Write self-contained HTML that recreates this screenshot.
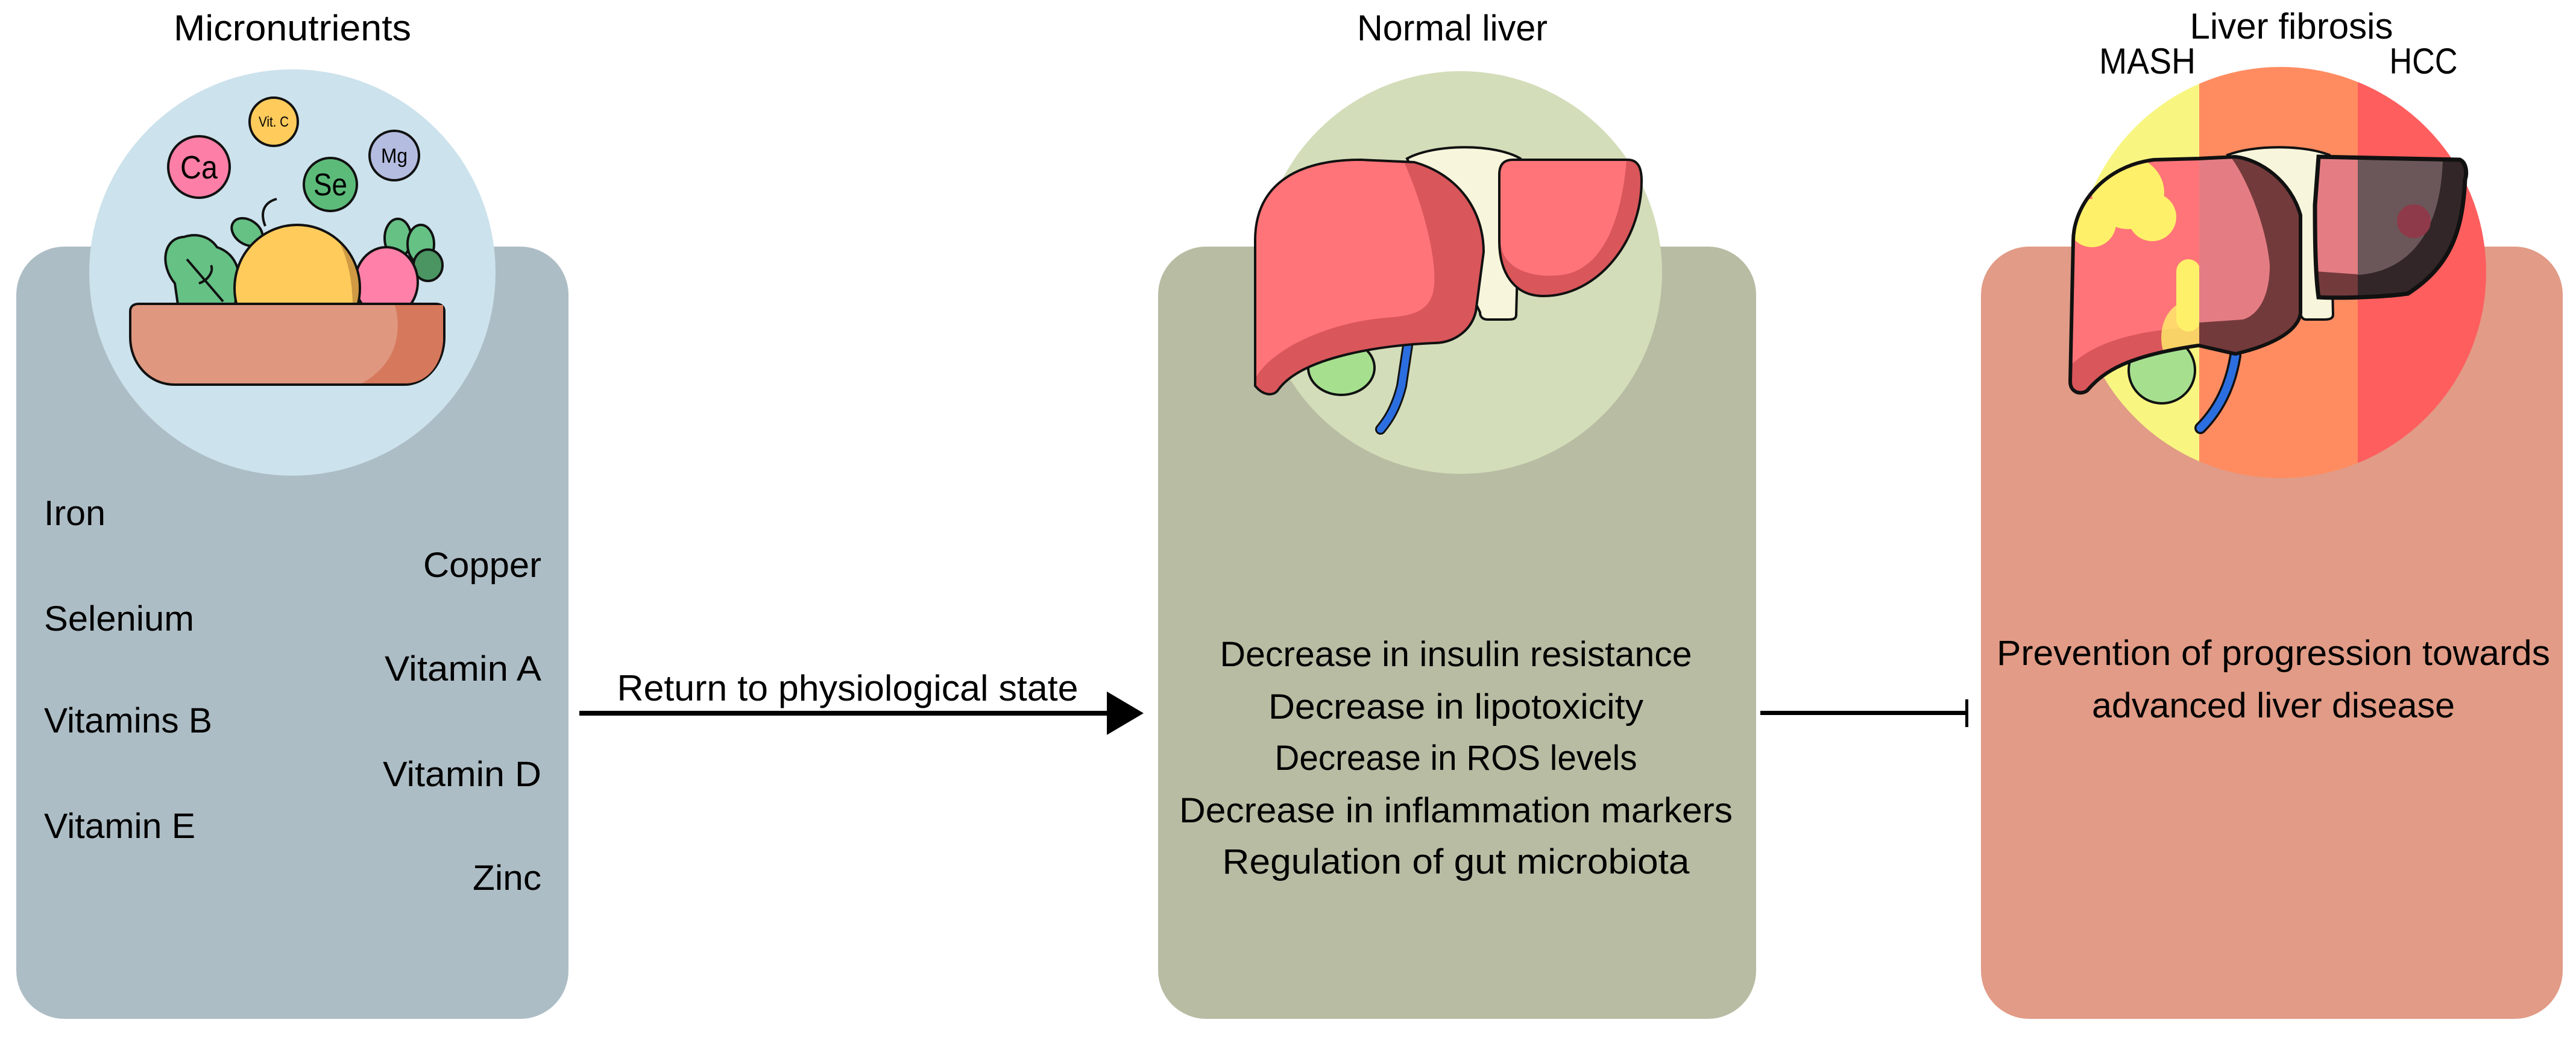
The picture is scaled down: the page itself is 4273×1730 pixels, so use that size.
<!DOCTYPE html>
<html><head><meta charset="utf-8"><style>html,body{margin:0;padding:0;background:#fff}svg{display:block}text{font-family:"Liberation Sans",sans-serif;fill:#000}</style></head>
<body>
<svg width="4273" height="1730" viewBox="0 0 4273 1730" xmlns="http://www.w3.org/2000/svg">
<defs>
<clipPath id="c3"><circle cx="3783" cy="452" r="341"/></clipPath>
<clipPath id="fruit"><ellipse cx="493" cy="478" rx="102" ry="103"/></clipPath>
<clipPath id="lobeL"><path d="M3647,263 L3573,265 C3490,275 3439,340 3439,400 L3434,633 C3434,650 3450,656 3462,648 C3490,615 3530,590 3647,573 L3708,587 C3780,570 3812,545 3816,520 L3816,357 C3800,300 3750,265 3708,260 Z"/></clipPath>
<clipPath id="lobeR"><path d="M3846,260 L4080,265 C4092,270 4092,290 4089,297 C4085,380 4067,440 3994,487 C3950,493 3880,495 3846,493 C3840,450 3840,380 3840,340 Z"/></clipPath>
</defs>

<rect x="27" y="409" width="916" height="1281" rx="80" fill="#adbdc5"/>
<rect x="1921" y="409" width="992" height="1281" rx="80" fill="#b7bca3"/>
<rect x="3286" y="409" width="965" height="1281" rx="80" fill="#e19b86"/>

<circle cx="485" cy="452" r="337" fill="#cce2ec"/>
<circle cx="2423" cy="452" r="334" fill="#d3ddb9"/>
<g clip-path="url(#c3)">
<rect x="3400" y="100" width="248" height="720" fill="#f8f681"/>
<rect x="3648" y="100" width="263" height="720" fill="#ff8c61"/>
<rect x="3911" y="100" width="260" height="720" fill="#ff5e5e"/>
</g>

<text x="485" y="67" font-size="60" text-anchor="middle" textLength="394" lengthAdjust="spacingAndGlyphs">Micronutrients</text>
<text x="2409" y="67" font-size="60" text-anchor="middle" textLength="316" lengthAdjust="spacingAndGlyphs">Normal liver</text>
<text x="3801" y="64" font-size="60" text-anchor="middle" textLength="337" lengthAdjust="spacingAndGlyphs">Liver fibrosis</text>
<text x="3562" y="122" font-size="60" text-anchor="middle" textLength="160" lengthAdjust="spacingAndGlyphs">MASH</text>
<text x="4020" y="122" font-size="60" text-anchor="middle" textLength="113" lengthAdjust="spacingAndGlyphs">HCC</text>

<!-- Bowl illustration -->
<g stroke="#111" stroke-width="4">
<circle cx="330" cy="277" r="51" fill="#fd7fa7"/>
<circle cx="454" cy="202" r="40" fill="#ffcb5b"/>
<circle cx="548" cy="306" r="44" fill="#5dbb7a"/>
<circle cx="654" cy="258" r="41" fill="#b4bde0"/>
</g>
<text x="330" y="296" font-size="54" text-anchor="middle" textLength="62" lengthAdjust="spacingAndGlyphs">Ca</text>
<text x="454" y="210" font-size="24" text-anchor="middle" textLength="50" lengthAdjust="spacingAndGlyphs">Vit. C</text>
<text x="548" y="324" font-size="52" text-anchor="middle" textLength="56" lengthAdjust="spacingAndGlyphs">Se</text>
<text x="654" y="270" font-size="34" text-anchor="middle" textLength="44" lengthAdjust="spacingAndGlyphs">Mg</text>
<g stroke="#111" stroke-width="4">
<path d="M440,375 C430,350 440,335 459,330" fill="none"/>
<ellipse cx="410" cy="385" rx="28" ry="20" fill="#66c185" transform="rotate(35 410 385)"/>
<ellipse cx="660" cy="395" rx="22" ry="32" fill="#66c185"/>
<ellipse cx="698" cy="405" rx="22" ry="32" fill="#66c185"/>
<ellipse cx="710" cy="440" rx="24" ry="26" fill="#4a9562"/>
<path d="M290,470 C265,440 270,395 305,393 C330,385 350,395 360,410 C390,420 400,450 395,470 L390,505 L295,505 Z" fill="#66c185"/>
<path d="M310,430 L370,500 M330,470 C345,465 355,450 350,440" fill="none"/>
<ellipse cx="641" cy="468" rx="52" ry="58" fill="#ff80a8"/>
<ellipse cx="493" cy="478" rx="104" ry="105" fill="#ffcb5b"/>
</g>
<g clip-path="url(#fruit)"><path d="M540,370 C570,400 585,450 585,510 L620,510 L620,370 Z" fill="#cf9a43"/></g>
<g stroke="#111" stroke-width="4">
<path d="M216,516 C216,508 222,504 230,504 L723,504 C731,504 737,508 737,516 L737,560 C737,600 710,638 670,638 L290,638 C245,638 216,600 216,560 Z" fill="#e0977f"/>
</g>
<path d="M655,506 C665,540 665,600 600,636 L672,636 C712,636 735,600 735,560 L735,506 Z" fill="#d6785c"/>

<!-- Normal liver -->
<g stroke="#111" stroke-width="4">
<ellipse cx="2225" cy="610" rx="55" ry="45" fill="#a6e08f"/>
<path d="M2337,560 L2325,640 C2315,680 2300,700 2290,712" fill="none" stroke="#111" stroke-width="18" stroke-linecap="round"/>
<path d="M2337,560 L2325,640 C2315,680 2300,700 2290,712" fill="none" stroke="#2b6ee0" stroke-width="12" stroke-linecap="round"/>
<path d="M2334,263 C2380,238 2480,238 2522,263 L2515,522 C2515,530 2508,530 2500,530 L2468,530 C2458,530 2455,524 2455,518 Z" fill="#f7f6dc"/>
<path d="M2082,399 C2082,300 2160,265 2257,265 L2346,269 C2420,290 2461,350 2461,418 L2448,517 C2440,550 2410,569 2378,569 C2300,572 2160,590 2120,647 C2112,658 2095,656 2082,640 Z" fill="#d9565b"/>
<path d="M2510,265 L2700,265 C2718,265 2723,280 2723,300 C2723,400 2650,491 2560,491 C2510,491 2487,450 2487,400 L2487,290 C2487,272 2495,265 2510,265 Z" fill="#d9565b"/>
</g>
<path d="M2084,399 C2084,302 2160,267 2257,267 L2330,271 C2365,350 2385,440 2378,480 C2372,518 2340,524 2300,527 C2200,535 2110,580 2084,625 Z" fill="#ff7478"/>
<path d="M2510,267 L2698,267 C2690,360 2660,455 2580,457 C2530,460 2490,440 2489,400 L2489,290 C2489,274 2497,267 2510,267 Z" fill="#ff7478"/>

<!-- Fibrosis liver -->
<g stroke="#111" stroke-width="4">
<circle cx="3586" cy="614" r="55" fill="#a6e08f"/>
<path d="M3708,590 C3700,640 3680,680 3650,710" fill="none" stroke="#111" stroke-width="20" stroke-linecap="round"/>
<path d="M3695,257 C3740,240 3820,240 3864,257 L3870,522 C3870,530 3860,530 3855,530 L3825,530 C3818,530 3816,522 3816,518 Z" fill="#f7f6dc"/>
</g>
<path d="M3708,590 C3700,640 3680,680 3650,710" fill="none" stroke="#2b6ee0" stroke-width="13" stroke-linecap="round"/>
<g clip-path="url(#lobeL)">
<rect x="3430" y="250" width="400" height="420" fill="#ff7478"/>
<path d="M3430,610 C3480,560 3560,545 3680,540 L3680,700 L3430,700 Z" fill="#d9565b"/>
<circle cx="3530" cy="320" r="60" fill="#fff06a"/><circle cx="3470" cy="370" r="40" fill="#fff06a"/><circle cx="3570" cy="360" r="40" fill="#fff06a"/>
<ellipse cx="3630" cy="560" rx="45" ry="60" fill="#fff06a" opacity="0.8"/><rect x="3610" y="430" width="40" height="120" rx="20" fill="#fff06a"/>
<rect x="3648" y="250" width="200" height="420" fill="#733a3c"/>
<path d="M3648,255 L3700,260 C3730,300 3760,380 3765,440 C3765,500 3740,525 3720,530 L3648,535 Z" fill="#e47d83"/>
</g>
<g clip-path="url(#lobeR)">
<rect x="3830" y="250" width="270" height="260" fill="#733a3c"/>
<path d="M3840,258 L3911,258 L3911,455 L3840,450 Z" fill="#e47d83"/>
<rect x="3911" y="250" width="200" height="260" fill="#332628"/>
<path d="M3911,258 L4052,262 C4050,380 4000,450 3911,456 Z" fill="#6b5759"/>
<circle cx="4004" cy="367" r="28" fill="#8f3a4a"/>
</g>
<path d="M3647,263 L3573,265 C3490,275 3439,340 3439,400 L3434,633 C3434,650 3450,656 3462,648 C3490,615 3530,590 3647,573 L3708,587 C3780,570 3812,545 3816,520 L3816,357 C3800,300 3750,265 3708,260 Z" fill="none" stroke="#111" stroke-width="6"/>
<path d="M3846,260 L4080,265 C4092,270 4092,290 4089,297 C4085,380 4067,440 3994,487 C3950,493 3880,495 3846,493 C3840,450 3840,380 3840,340 Z" fill="none" stroke="#111" stroke-width="7"/>

<g font-size="58">
<text x="73" y="871" textLength="102" lengthAdjust="spacingAndGlyphs">Iron</text>
<text x="73" y="1046" textLength="249" lengthAdjust="spacingAndGlyphs">Selenium</text>
<text x="73" y="1215" textLength="279" lengthAdjust="spacingAndGlyphs">Vitamins B</text>
<text x="73" y="1390" textLength="251" lengthAdjust="spacingAndGlyphs">Vitamin E</text>
<text x="898" y="957" text-anchor="end" textLength="196" lengthAdjust="spacingAndGlyphs">Copper</text>
<text x="898" y="1129" text-anchor="end" textLength="260" lengthAdjust="spacingAndGlyphs">Vitamin A</text>
<text x="898" y="1304" text-anchor="end" textLength="263" lengthAdjust="spacingAndGlyphs">Vitamin D</text>
<text x="898" y="1476" text-anchor="end" textLength="114" lengthAdjust="spacingAndGlyphs">Zinc</text>
</g>

<text x="1406" y="1162" font-size="60" text-anchor="middle" textLength="765" lengthAdjust="spacingAndGlyphs">Return to physiological state</text>
<rect x="961" y="1179" width="880" height="8" fill="#000"/>
<polygon points="1836,1147 1897,1183 1836,1219" fill="#000"/>

<g font-size="58" text-anchor="middle">
<text x="2415" y="1105" textLength="783" lengthAdjust="spacingAndGlyphs">Decrease in insulin resistance</text>
<text x="2415" y="1192" textLength="622" lengthAdjust="spacingAndGlyphs">Decrease in lipotoxicity</text>
<text x="2415" y="1277" textLength="601" lengthAdjust="spacingAndGlyphs">Decrease in ROS levels</text>
<text x="2415" y="1364" textLength="918" lengthAdjust="spacingAndGlyphs">Decrease in inflammation markers</text>
<text x="2415" y="1449" textLength="775" lengthAdjust="spacingAndGlyphs">Regulation of gut microbiota</text>
</g>

<rect x="2920" y="1179" width="344" height="7" fill="#000"/>
<rect x="3260" y="1160" width="5" height="46" fill="#000"/>

<g font-size="58" text-anchor="middle">
<text x="3771" y="1103" textLength="918" lengthAdjust="spacingAndGlyphs">Prevention of progression towards</text>
<text x="3771" y="1190" textLength="602" lengthAdjust="spacingAndGlyphs">advanced liver disease</text>
</g>
</svg>
</body></html>
